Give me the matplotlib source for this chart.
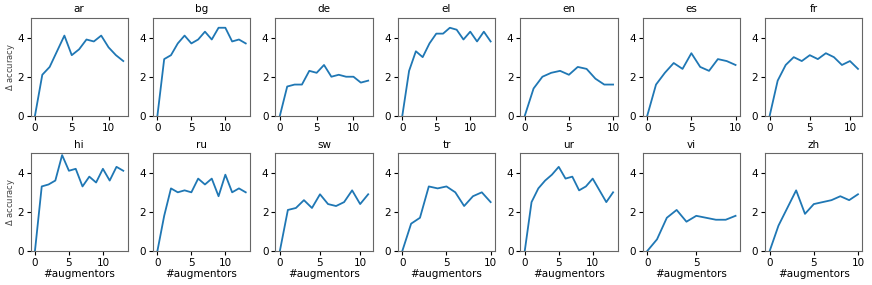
import matplotlib
matplotlib.use("Agg")
import matplotlib.pyplot as plt

languages = ["ar", "bg", "de", "el", "en", "es", "fr",
             "hi", "ru", "sw", "tr", "ur", "vi", "zh"]

ar = [0, 2.1, 2.5, 3.3, 4.1, 3.1, 3.4, 3.9, 3.8, 4.1, 3.5, 3.1, 2.8]
bg = [0, 2.9, 3.1, 3.7, 4.1, 3.7, 3.9, 4.3, 3.9, 4.5, 4.5, 3.8, 3.9, 3.7]
de = [0, 1.5, 1.6, 1.6, 2.3, 2.2, 2.6, 2.0, 2.1, 2.0, 2.0, 1.7, 1.8]
el = [0, 2.3, 3.3, 3.0, 3.7, 4.2, 4.2, 4.5, 4.4, 3.9, 4.3, 3.8, 4.3, 3.8]
en = [0, 1.4, 2.0, 2.2, 2.3, 2.1, 2.5, 2.4, 1.9, 1.6, 1.6]
es = [0, 1.6, 2.2, 2.7, 2.4, 3.2, 2.5, 2.3, 2.9, 2.8, 2.6]
fr = [0, 1.8, 2.6, 3.0, 2.8, 3.1, 2.9, 3.2, 3.0, 2.6, 2.8, 2.4]
hi = [0, 3.3, 3.4, 3.6, 4.9, 4.1, 4.2, 3.3, 3.8, 3.5, 4.2, 3.6, 4.3, 4.1]
ru = [0, 1.8, 3.2, 3.0, 3.1, 3.0, 3.7, 3.4, 3.7, 2.8, 3.9, 3.0, 3.2, 3.0]
sw = [0, 2.1, 2.2, 2.6, 2.2, 2.9, 2.4, 2.3, 2.5, 3.1, 2.4, 2.9]
tr = [0, 1.4, 1.7, 3.3, 3.2, 3.3, 3.0, 2.3, 2.8, 3.0, 2.5]
ur = [0, 2.5, 3.2, 3.6, 3.9, 4.3, 3.7, 3.8, 3.1, 3.3, 3.7, 3.1, 2.5, 3.0]
vi = [0, 0.6, 1.7, 2.1, 1.5, 1.8, 1.7, 1.6, 1.6, 1.8]
zh = [0, 1.3, 2.2, 3.1, 1.9, 2.4, 2.5, 2.6, 2.8, 2.6, 2.9]

series = [ar, bg, de, el, en, es, fr, hi, ru, sw, tr, ur, vi, zh]

fig, axes = plt.subplots(2, 7, figsize=(8.72, 2.85), dpi=100)
fig.subplots_adjust(left=0.035, right=0.989, top=0.937, bottom=0.119,
                     wspace=0.26, hspace=0.38)

for i, (ax, lang, ys) in enumerate(zip(axes.flat, languages, series)):
    ax.plot(range(len(ys)), ys, color="#1f77b4", linewidth=1.3)
    ax.set_ylim(0, 5)
    ax.set_yticks([0, 2, 4])
    ax.set_title(lang, fontsize=7.5, pad=4)
    ax.tick_params(labelsize=7.5, length=3, pad=2)
    for s in ax.spines.values():
        s.set_color("#666666")
    if i % 7 == 0:
        ax.set_ylabel("$\\Delta$ accuracy", fontsize=6, color="#444444", labelpad=0)
    if i >= 7:
        ax.set_xlabel("#augmentors", fontsize=7.5, labelpad=1)

fig.savefig("out.png", dpi=100)
